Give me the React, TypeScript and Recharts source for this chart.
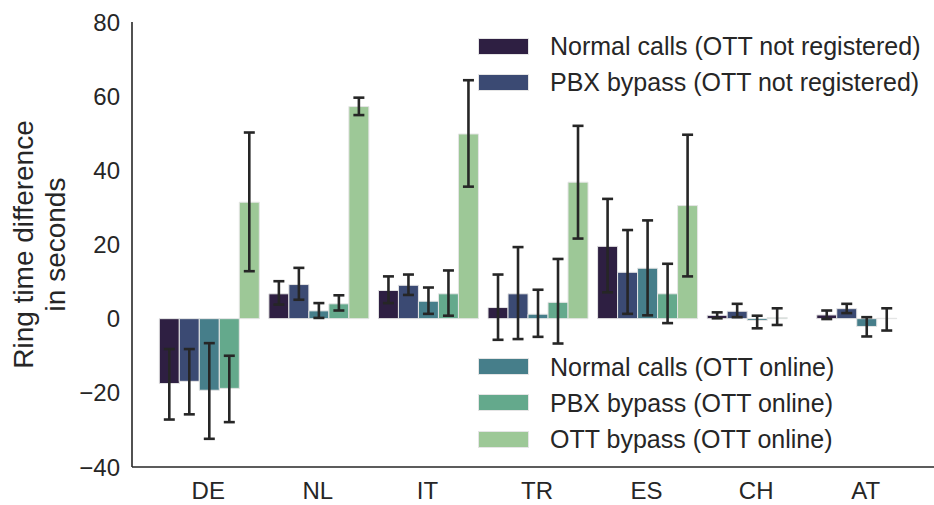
import React from 'react';
import { BarChart, Bar, XAxis, YAxis, ErrorBar, Legend } from 'recharts';

const categories = ['DE', 'NL', 'IT', 'TR', 'ES', 'CH', 'AT'];

const seriesNames = [
  'Normal calls (OTT not registered)',
  'PBX bypass (OTT not registered)',
  'Normal calls (OTT online)',
  'PBX bypass (OTT online)',
  'OTT bypass (OTT online)',
];
const seriesColors = ['#2e1f42', '#3b4a73', '#467e8a', '#64a98c', '#9dc897'];

const normalNotReg = [-17.5, 6.7, 7.6, 3.0, 19.5, 0.9, 1.0];
const normalNotRegLow = [-27.2, 3.8, 4.2, -5.7, 7.1, 0.1, -0.1];
const normalNotRegHigh = [-8.2, 10.1, 11.4, 11.9, 32.3, 1.7, 2.2];

const pbxNotReg = [-16.9, 9.2, 9.0, 6.7, 12.5, 2.0, 2.7];
const pbxNotRegLow = [-25.8, 5.1, 6.4, -5.5, 1.3, 0.4, 1.5];
const pbxNotRegHigh = [-8.2, 13.7, 11.9, 19.3, 23.9, 4.0, 4.0];

const normalOnline = [-19.3, 2.1, 4.7, 1.2, 13.6, -0.5, -2.1];
const normalOnlineLow = [-32.4, 0.2, 1.3, -4.9, 0.9, -2.6, -4.8];
const normalOnlineHigh = [-6.6, 4.2, 8.4, 7.8, 26.5, 0.8, 0.4];

const pbxOnline = [-18.8, 4.0, 6.7, 4.4, 6.7, 0.3, 0.1];
const pbxOnlineLow = [-27.9, 2.2, 0.8, -6.7, -1.2, -1.7, -3.2];
const pbxOnlineHigh = [-10.0, 6.3, 13.0, 16.1, 14.8, 2.8, 2.8];

const ottBypass = [31.4, 57.2, 49.8, 36.8, 30.5, 0, 0];
const ottBypassLow: (number | null)[] = [12.8, 54.9, 35.6, 21.6, 11.4, null, null];
const ottBypassHigh: (number | null)[] = [50.2, 59.6, 64.3, 52.0, 49.6, null, null];

const yTicks = [-40, -20, 0, 20, 40, 60, 80];

const keys = ['s0', 's1', 's2', 's3', 's4'];
const values = [normalNotReg, pbxNotReg, normalOnline, pbxOnline, ottBypass];
const lows = [normalNotRegLow, pbxNotRegLow, normalOnlineLow, pbxOnlineLow, ottBypassLow];
const highs = [normalNotRegHigh, pbxNotRegHigh, normalOnlineHigh, pbxOnlineHigh, ottBypassHigh];

const data = categories.map((c, i) => {
  const row: any = { country: c };
  keys.forEach((k, s) => {
    const v = values[s][i];
    const lo = lows[s][i];
    const hi = highs[s][i];
    row[k] = v;
    row[k + 'err'] = lo == null || hi == null ? null : [v - lo, hi - v];
  });
  return row;
});

const TEXT = '#262626';
const FONT = '"Liberation Sans", Arial, sans-serif';

const legendRows = [
  { idx: 0, y: 46 },
  { idx: 1, y: 82.3 },
  { idx: 2, y: 366.7 },
  { idx: 3, y: 402.7 },
  { idx: 4, y: 439 },
];

const renderLegend = () => (
  <div style={{ position: 'relative', width: 934, height: 505 }}>
    {legendRows.map((r) => (
      <div
        key={r.idx}
        style={{
          position: 'absolute',
          left: 478,
          top: r.y - 15,
          height: 30,
          display: 'flex',
          alignItems: 'center',
          whiteSpace: 'nowrap',
        }}
      >
        <div
          style={{
            width: 51,
            height: 17,
            background: seriesColors[r.idx],
            boxSizing: 'border-box',
            border: '1px solid #e5e5e5',
            marginRight: 21,
          }}
        />
        <span style={{ fontSize: 25, color: TEXT, fontFamily: FONT, lineHeight: '30px' }}>
          {seriesNames[r.idx]}
        </span>
      </div>
    ))}
  </div>
);

const YLabel = (props: any) => {
  const vb = props.viewBox || { x: 0, y: 22, width: 132, height: 445 };
  const cy = vb.y + vb.height / 2;
  const x1 = vb.x + 33;
  const x2 = vb.x + 65;
  return (
    <g>
      <text
        x={x1}
        y={cy}
        transform={`rotate(-90, ${x1}, ${cy})`}
        textAnchor="middle"
        fontSize={28}
        fill={TEXT}
        fontFamily={FONT}
      >
        Ring time difference
      </text>
      <text
        x={x2}
        y={cy}
        transform={`rotate(-90, ${x2}, ${cy})`}
        textAnchor="middle"
        fontSize={28}
        fill={TEXT}
        fontFamily={FONT}
      >
        in seconds
      </text>
    </g>
  );
};

const formatTick = (v: number) => String(v).replace('-', '\u2212');

export default function App() {
  return (
    <div
      style={{
        position: 'fixed',
        left: 0,
        top: 0,
        width: 934,
        height: 505,
        overflow: 'hidden',
        background: '#ffffff',
      }}
    >
      <BarChart
        width={950}
        height={505}
        data={data}
        margin={{ top: 22, right: 8, bottom: 8, left: 0 }}
        barCategoryGap="5.3%"
        barGap={0}
        style={{ fontFamily: FONT }}
      >
        <XAxis
          dataKey="country"
          height={30}
          padding={{ left: 21.5, right: 21.5 }}
          tickLine={false}
          tickSize={0}
          tickMargin={15}
          axisLine={{ stroke: TEXT, strokeWidth: 1.6 }}
          tick={{ fontSize: 24, fill: TEXT, fontFamily: FONT }}
          interval={0}
        />
        <YAxis
          width={132}
          domain={[-40, 80]}
          ticks={yTicks}
          allowDataOverflow
          tickLine={false}
          tickSize={0}
          tickMargin={12}
          tickFormatter={formatTick}
          axisLine={{ stroke: TEXT, strokeWidth: 1.6 }}
          tick={{ fontSize: 24, fill: TEXT, fontFamily: FONT }}
          label={<YLabel />}
        />
        <Legend
          layout="vertical"
          verticalAlign="middle"
          align="center"
          content={renderLegend}
          wrapperStyle={{ position: 'absolute', left: 0, top: 0, width: 934, height: 505, pointerEvents: 'none' }}
        />
        {keys.map((k, s) => (
          <Bar
            key={k}
            dataKey={k}
            name={seriesNames[s]}
            fill={seriesColors[s]}
            stroke="#e5e5e5"
            strokeWidth={1}
            isAnimationActive={false}
          >
            <ErrorBar dataKey={k + 'err'} width={5.5} strokeWidth={2.6} stroke={TEXT} direction="y" />
          </Bar>
        ))}
      </BarChart>
    </div>
  );
}
